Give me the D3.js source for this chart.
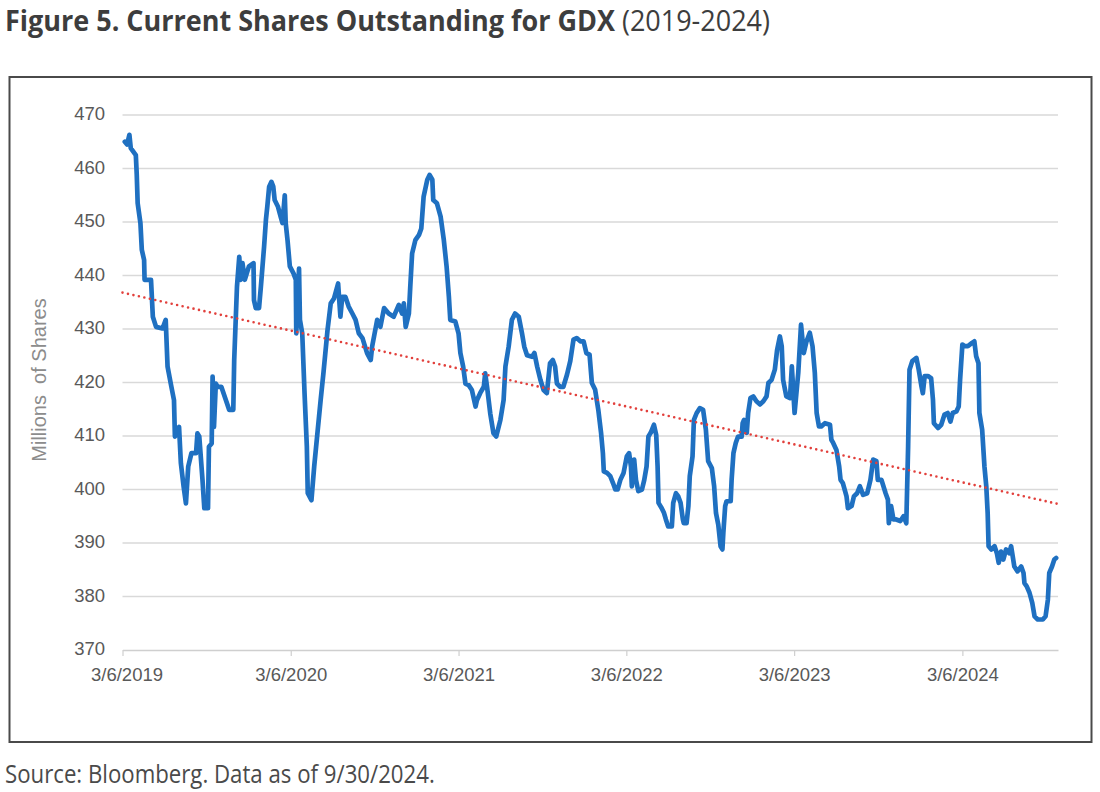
<!DOCTYPE html>
<html>
<head>
<meta charset="utf-8">
<script src="https://cdn.jsdelivr.net/npm/d3@7"></script>
<style>
  html, body { margin: 0; padding: 0; background: #ffffff; }
  svg { display: block; }
</style>
</head>
<body>
<div id="chart"></div>
<script>
// ---------------- DATA ----------------
const titleBold = "Figure 5. Current Shares Outstanding for GDX";
const titleRegular = " (2019-2024)";
const sourceText = "Source: Bloomberg. Data as of 9/30/2024.";
const yAxisTitle = "Millions  of Shares";

const startDate = "2019-03-06";
const endDate = "2024-09-30";

// days after 3/6/2019
const dayOffsets = [5,10,15,18,29,31,33,39,42,47,48,62,66,73,87,94,98,105,112,114,123,127,133,138,143,150,160,163,167,174,178,186,188,194,196,199,203,207,215,225,232,241,243,249,254,257,261,266,275,285,286,290,297,301,308,312,315,319,324,328,331,338,344,348,353,355,359,364,372,377,378,384,386,391,396,401,403,411,417,424,431,437,446,453,460,469,474,478,485,492,500,507,514,522,532,540,543,554,561,569,579,590,601,608,612,616,623,626,630,637,645,650,655,663,668,674,676,684,692,699,705,710,713,724,731,735,741,746,753,760,768,771,778,786,789,793,800,807,813,822,829,833,840,847,854,862,869,874,880,891,896,902,909,916,923,930,936,941,945,952,959,967,974,981,988,996,1003,1009,1016,1021,1028,1035,1041,1045,1047,1054,1061,1067,1072,1077,1083,1090,1097,1102,1106,1108,1113,1117,1122,1130,1135,1140,1144,1149,1156,1161,1164,1166,1173,1178,1182,1187,1195,1198,1204,1209,1214,1219,1221,1227,1231,1234,1240,1243,1249,1256,1263,1269,1274,1282,1287,1291,1296,1301,1305,1307,1311,1314,1323,1325,1329,1334,1339,1347,1349,1352,1358,1361,1366,1372,1379,1387,1394,1401,1405,1412,1419,1424,1430,1434,1437,1444,1452,1456,1462,1470,1476,1482,1488,1495,1501,1506,1510,1515,1520,1528,1539,1542,1546,1553,1559,1562,1567,1575,1578,1586,1591,1598,1604,1611,1620,1627,1633,1640,1643,1651,1660,1665,1667,1672,1677,1683,1692,1699,1705,1709,1712,1718,1727,1732,1738,1741,1745,1752,1759,1763,1765,1774,1781,1788,1795,1801,1806,1814,1819,1822,1827,1832,1839,1848,1853,1857,1862,1864,1870,1875,1879,1882,1884,1890,1897,1902,1906,1911,1916,1922,1929,1933,1940,1947,1955,1960,1962,1967,1973,1979,1984,1991,2002,2008,2013,2016,2022,2027,2031];

// shares outstanding, millions
const shares = [465,464.5,466.3,463.8,462.5,458.8,453.5,449.8,444.8,442.9,439.2,439.2,432.3,430.4,430.1,431.7,423,419.8,416.7,409.9,411.7,404.9,400.5,397.4,404.3,406.8,406.8,410.5,409.9,401.8,396.5,396.5,408,408.6,421.1,411.7,419.8,419.2,419.2,416.7,414.9,414.9,424.2,437.9,443.5,439.2,442.3,439.2,441.7,442.3,435.4,433.9,433.9,437.9,445.4,450.4,452.9,456.6,457.5,456.6,454.1,452.9,451,449.8,455,449.8,446.6,441.7,440.4,439.2,429.2,441.3,431.7,429.2,418,408,399.3,398,404.3,410.5,416.7,421.7,429.8,434.8,435.7,438.5,432.3,436,436,434.2,432.9,431.7,429.2,428.3,425.5,424.2,426.7,431.7,430.4,433.9,432.9,432.3,434.5,432.9,434.8,430.4,432.9,437.9,444.1,446.6,447.6,448.8,454.7,457.9,458.8,457.9,454.1,453.5,451,446.6,441.7,436,431.7,431.4,429.2,425.5,423,419.8,419.5,418.6,415.5,416.7,418,419.2,421.7,419.2,414.2,410.5,409.9,413,416.7,423,426.7,431.7,432.9,432.3,429.2,426.7,425.1,424.8,425.5,423,420.5,418.6,418,423.6,424.2,423,419.8,419.2,419.2,421.5,424,428,428.3,427.7,427.7,425.5,425.2,419.9,418.7,414.9,410.6,406.8,403.4,403.1,402.5,401.2,400,400,401.8,403.1,406.2,406.8,404.3,400.6,405.6,401.8,399.7,400,401.8,404.3,409.9,410.6,412.1,410.2,404.3,397.5,396.5,395.6,394.4,393.1,393.1,397.5,399.3,398.7,397.5,394.4,393.7,393.7,396.9,402.5,406.2,413,414.3,415.2,414.9,411.2,405.3,404,400.6,395.6,393.4,389.4,388.8,391.9,396.9,397.8,397.8,401.8,406.8,408.7,409.9,409.9,412.4,413,410.6,414.3,417.1,417.4,416.5,415.9,416.5,417.4,419.9,420.5,422.4,426.1,428.6,426.8,420.5,417.4,417.1,423,414.3,421.8,430.8,425.5,427.7,429.3,426.8,421.8,414.3,411.8,411.8,412.4,412.1,409.3,408.7,407.4,404.3,401.8,401.2,398.7,396.5,396.9,398.7,399.3,400.6,399,399.3,401.8,405.6,405.3,401.8,401.8,399.3,398.1,393.7,396.9,394.4,394.4,394.1,395,393.7,408.1,422.4,424,424.6,422.4,419.3,418,421.2,421.2,420.8,416.8,412.4,411.5,412.1,414,414.3,412.7,414.3,414.6,415.5,420.5,427.1,426.8,426.8,427.4,427.7,424.9,423.6,414.3,411.2,404.3,400.6,395.6,389.4,388.8,389.4,388.1,386.3,388.4,386.9,388.8,388.1,389.4,385.6,384.7,385.6,384.4,382.5,381.9,380.7,378.8,376.3,375.7,375.7,376.3,379.4,384.4,385.6,386.9,387.2];

// linear trend (start, end)
const trendValues = [436.8, 397.3];

const yTicks = [370,380,390,400,410,420,430,440,450,460,470];
const xTickDates = ["2019-03-06","2020-03-06","2021-03-06","2022-03-06","2023-03-06","2024-03-06"];
const xTickLabels = ["3/6/2019","3/6/2020","3/6/2021","3/6/2022","3/6/2023","3/6/2024"];

// ---------------- DRAW ----------------
const W = 1100, H = 792;
const parse = d3.timeParse("%Y-%m-%d");
const t0 = parse(startDate), t1 = parse(endDate);

if (dayOffsets.length !== shares.length) {
  throw new Error("length mismatch " + dayOffsets.length + " vs " + shares.length);
}
const data = dayOffsets.map((d, i) => ({ date: d3.timeDay.offset(t0, d), v: shares[i] }));

const svg = d3.select("#chart").append("svg")
  .attr("width", W).attr("height", H)
  .style("background", "#fff");

const x = d3.scaleTime().domain([t0, t1]).range([122.5, 1058]);
const y = d3.scaleLinear().domain([370, 470]).range([650, 115]);

// frame
svg.append("rect")
  .attr("x", 9.5).attr("y", 77).attr("width", 1082).attr("height", 665)
  .attr("fill", "none").attr("stroke", "#4a4a4a").attr("stroke-width", 2);

// gridlines
svg.append("g").selectAll("line").data(yTicks.slice(1)).join("line")
  .attr("x1", x.range()[0]).attr("x2", x.range()[1])
  .attr("y1", d => y(d)).attr("y2", d => y(d))
  .attr("stroke", "#d9d9d9").attr("stroke-width", 1.3);

// y axis labels
svg.append("g").selectAll("text").data(yTicks).join("text")
  .attr("x", 105).attr("y", d => y(d) - 1.5).attr("dy", "0.36em")
  .attr("text-anchor", "end")
  .attr("font-family", "Liberation Sans, Arial, sans-serif")
  .attr("font-size", 18.5).attr("fill", "#595959")
  .text(d => d);

// x axis
const xAxis = d3.axisBottom(x)
  .tickValues(xTickDates.map(parse))
  .tickSize(6)
  .tickSizeOuter(0)
  .tickFormat((d, i) => xTickLabels[i]);
const gx = svg.append("g").attr("transform", `translate(0,${y(370)})`).call(xAxis);
gx.select(".domain").attr("stroke", "#cfcfcf").attr("stroke-width", 1.3);
gx.selectAll(".tick line").attr("stroke", "#cfcfcf").attr("stroke-width", 1.2);
gx.selectAll(".tick text")
  .attr("y", 18).attr("dy", "0.71em")
  .attr("font-family", "Liberation Sans, Arial, sans-serif")
  .attr("font-size", 18.5).attr("fill", "#595959");
gx.selectAll(".tick text").filter((d, i) => i === 0).attr("dx", 4);

// y axis title
svg.append("text")
  .attr("transform", "translate(46,380) rotate(-90)")
  .attr("text-anchor", "middle")
  .attr("font-family", "Liberation Sans, Arial, sans-serif")
  .attr("font-size", 20).attr("fill", "#8c8c8c")
  .style("white-space", "pre")
  .text(yAxisTitle);

// data line
const line = d3.line().x(d => x(d.date)).y(d => y(d.v));
svg.append("path").datum(data)
  .attr("d", line)
  .attr("fill", "none").attr("stroke", "#1f70c1")
  .attr("stroke-width", 4.7)
  .attr("stroke-linejoin", "round").attr("stroke-linecap", "round");

// trend line
const trendData = [{ date: t0, v: trendValues[0] }, { date: t1, v: trendValues[1] }];
svg.append("path").datum(trendData)
  .attr("d", line)
  .attr("fill", "none").attr("stroke", "#e2403c")
  .attr("stroke-width", 2.6)
  .attr("stroke-dasharray", "0,5.6")
  .attr("stroke-linecap", "round");

// title
const title = svg.append("text")
  .attr("font-family", "Open Sans, Noto Sans, sans-serif")
  .attr("font-size", 28.5).attr("fill", "#3d3d3d")
  .style("white-space", "pre");
title.append("tspan").attr("font-weight", 700).text(titleBold);
title.append("tspan").attr("font-weight", 400).text(titleRegular);
const tw = title.node().getComputedTextLength();
title.attr("transform", `translate(5,31) scale(${765 / tw},1)`);

// source
const src = svg.append("text")
  .attr("font-family", "Open Sans, Noto Sans, sans-serif")
  .attr("font-size", 25).attr("font-weight", 400).attr("fill", "#4a4a4a")
  .text(sourceText);
const sw = src.node().getComputedTextLength();
src.attr("transform", `translate(5,783) scale(${430 / sw},1)`);
</script>
</body>
</html>
